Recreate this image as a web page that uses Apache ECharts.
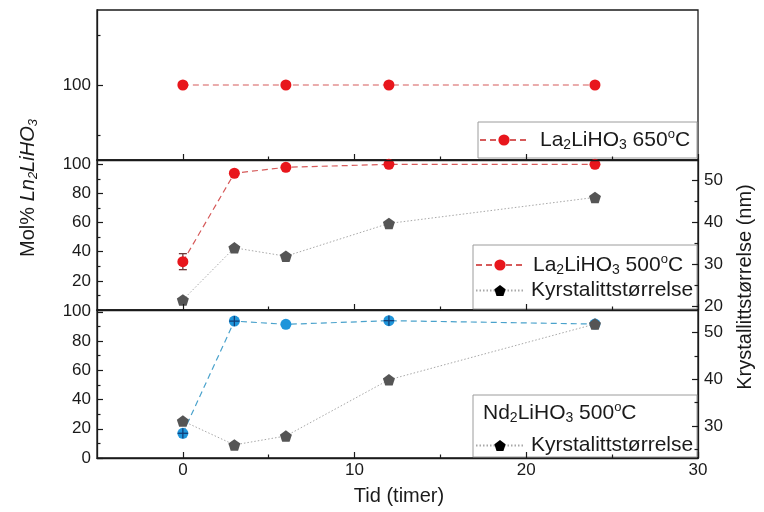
<!DOCTYPE html>
<html><head><meta charset="utf-8">
<script src="https://cdn.jsdelivr.net/npm/echarts@6/dist/echarts.min.js"></script>
<style>html,body{margin:0;padding:0;background:#fff}#c{width:764px;height:512px}</style>
</head><body><div id="c"></div>
<script>
// ---- data ----
const hoursTop = [0, 6, 12, 24];
const hours = [0, 3, 6, 12, 24];
const la650 = [100, 100, 100, 100];
const la500 = [33.2, 93.9, 98, 100, 100];
const la500Err = [5.5, 0, 0, 0, 0];
const crystLa = [21.6, 34, 32, 39.8, 46];
const nd500 = [16.9, 93.6, 91.4, 93.9, 91.6];
const nd500ErrY = [3.5, 3.5, 0, 3.5, 0];
const nd500ErrX = [0.3, 0.3, 0, 0.3, 0];
const crystNd = [31.1, 26, 27.9, 39.9, 51.8];
const xTicks = [0, 10, 20, 30];
const xMinor = [5, 15, 25];
const topTicks = [100];
const topMinor = [90, 110];
const molTicks = [0, 20, 40, 60, 80, 100];
const molLabelsMid = [20, 40, 60, 80, 100];
const molMinor = [10, 30, 50, 70, 90];
const nmTicksMid = [20, 30, 40, 50];
const nmTicksBot = [30, 40, 50];
const nmMinor = [25, 35, 45];

const FONT = '"Liberation Sans", Arial, sans-serif';
const INK = '#1a1a1a';

function pairs(xs, ys) { return xs.map((x, i) => [x, ys[i]]); }

function xAxes(g, showLabel) {
  return [
    { gridIndex: g, type: 'value', position: 'bottom', min: -5, max: 30, z: 6,
      axisLine: { show: true, onZero: false, lineStyle: { color: INK, width: 1.3 } },
      axisTick: { show: true, inside: true, length: 6, customValues: xTicks, lineStyle: { color: INK, width: 1.2 } },
      axisLabel: { show: showLabel, customValues: xTicks, color: INK, fontSize: 17, fontFamily: FONT, margin: 4 },
      splitLine: { show: false } },
    { gridIndex: g, type: 'value', position: 'bottom', min: -5, max: 30, z: 6,
      axisLine: { show: false, onZero: false },
      axisTick: { show: true, inside: true, length: 3.5, customValues: xMinor, lineStyle: { color: INK, width: 1.2 } },
      axisLabel: { show: false }, splitLine: { show: false } }
  ];
}
function yAxes(g, pos, min, max, ticks, labels, minor) {
  return [
    { gridIndex: g, type: 'value', position: pos, min: min, max: max, z: 6,
      axisLine: { show: true, onZero: false, lineStyle: { color: INK, width: 1.3 } },
      axisTick: { show: true, inside: true, length: 6, customValues: ticks, lineStyle: { color: INK, width: 1.2 } },
      axisLabel: { show: true, customValues: labels, color: INK, fontSize: 17, fontFamily: FONT, margin: 6 },
      splitLine: { show: false } },
    { gridIndex: g, type: 'value', position: pos, min: min, max: max, z: 6,
      axisLine: { show: false, onZero: false },
      axisTick: { show: true, inside: true, length: 3.5, customValues: minor, lineStyle: { color: INK, width: 1.2 } },
      axisLabel: { show: false }, splitLine: { show: false } }
  ];
}

const rich = {
  n: { fontSize: 21, lineHeight: 24, fontFamily: FONT, color: INK },
  np: { fontSize: 21, lineHeight: 24, fontFamily: FONT, color: INK, padding: [0, 0, 0, 7] },
  nq: { fontSize: 21, lineHeight: 24, fontFamily: FONT, color: INK, padding: [0, 0, 0, 4] },
  nr: { fontSize: 21, lineHeight: 24, fontFamily: FONT, color: INK, padding: [0, 0, 0, 2] },
  sb: { fontSize: 14, lineHeight: 8, verticalAlign: 'bottom', fontFamily: FONT, color: INK },
  sp: { fontSize: 13, lineHeight: 13, verticalAlign: 'top', fontFamily: FONT, color: INK }
};
const legendNames = {
  La650: '{np|La}{sb|2}{n|LiHO}{sb|3}{n| 650}{sp|o}{n|C}',
  La500: '{nq|La}{sb|2}{n|LiHO}{sb|3}{n| 500}{sp|o}{n|C}',
  Kyrs: '{nr|Kyrstalittstørrelse}'
};
function legendFmt(name) { return legendNames[name]; }

const pentagon = 'path://M0,-1 L0.951,-0.309 L0.588,0.809 L-0.588,0.809 L-0.951,-0.309 Z';
const RED = '#e8161c', BLUE = '#1f95da', GRAY = '#555555';

function errRender(caps, color) {
  return function (params, api) {
    const x = api.value(0), y = api.value(1), ex = api.value(2), ey = api.value(3);
    const kids = [];
    const st = { stroke: color, lineWidth: 1.3, fill: null };
    if (ey > 0) {
      const t = api.coord([x, y + ey]), b = api.coord([x, y - ey]);
      kids.push({ type: 'line', shape: { x1: t[0], y1: t[1], x2: b[0], y2: b[1] }, style: st });
      if (caps) {
        kids.push({ type: 'line', shape: { x1: t[0] - 4, y1: t[1], x2: t[0] + 4, y2: t[1] }, style: st });
        kids.push({ type: 'line', shape: { x1: b[0] - 4, y1: b[1], x2: b[0] + 4, y2: b[1] }, style: st });
      }
    }
    if (ex > 0) {
      const l = api.coord([x - ex, y]), r = api.coord([x + ex, y]);
      kids.push({ type: 'line', shape: { x1: l[0], y1: l[1], x2: r[0], y2: r[1] }, style: st });
    }
    return { type: 'group', children: kids };
  };
}

const opt = {
  animation: false,
  backgroundColor: '#fff',
  grid: [
    { left: 97, top: 10, width: 601, height: 150, show: true, borderColor: INK, borderWidth: 1.3, backgroundColor: 'transparent' },
    { left: 97, top: 160, width: 601, height: 150, show: true, borderColor: INK, borderWidth: 1.3, backgroundColor: 'transparent' },
    { left: 97, top: 310, width: 601, height: 148, show: true, borderColor: INK, borderWidth: 1.3, backgroundColor: 'transparent' }
  ],
  xAxis: [].concat(xAxes(0, false), xAxes(1, false), xAxes(2, true)),
  yAxis: [].concat(
    yAxes(0, 'left', 85, 115, topTicks, topTicks, topMinor),
    yAxes(1, 'left', 0, 103, molTicks, molLabelsMid, molMinor),
    yAxes(1, 'right', 19.2, 54.9, nmTicksMid, nmTicksMid, nmMinor),
    yAxes(2, 'left', 0, 101.2, molTicks, molTicks, molMinor),
    yAxes(2, 'right', 23.2, 54.8, nmTicksBot, nmTicksBot, nmMinor)
  ),
  legend: [
    { data: ['La650'], left: 479, top: 128, itemWidth: 48, itemHeight: 14, padding: 0, selectedMode: false,
      formatter: legendFmt, textStyle: { rich: rich, fontSize: 21, fontFamily: FONT, color: INK }, z: 8 },
    { data: ['La500', { name: 'Kyrs', itemStyle: { color: '#000' } }], orient: 'vertical', left: 475, top: 253,
      itemGap: 3, itemWidth: 48, itemHeight: 14, padding: 0, selectedMode: false,
      formatter: legendFmt, textStyle: { rich: rich, fontSize: 21, fontFamily: FONT, color: INK }, z: 8 },
    { data: [{ name: 'Kyrs', itemStyle: { color: '#000' } }], left: 475, top: 435, itemWidth: 48, itemHeight: 14,
      padding: 0, selectedMode: false,
      formatter: legendFmt, textStyle: { rich: rich, fontSize: 21, fontFamily: FONT, color: INK }, z: 8 }
  ],
  graphic: [
    { type: 'rect', z: 4, shape: { x: 478, y: 122, width: 219, height: 36 }, style: { fill: '#fff', stroke: '#9c9c9c', lineWidth: 1 } },
    { type: 'rect', z: 4, shape: { x: 473, y: 245, width: 224, height: 64 }, style: { fill: '#fff', stroke: '#9c9c9c', lineWidth: 1 } },
    { type: 'rect', z: 4, shape: { x: 473, y: 395, width: 224, height: 62 }, style: { fill: '#fff', stroke: '#9c9c9c', lineWidth: 1 } },
    { type: 'text', z: 8, x: 483, y: 413, style: {
        text: '{n|Nd}{sb|2}{n|LiHO}{sb|3}{n| 500}{sp|o}{n|C}', fill: INK, align: 'left', verticalAlign: 'middle',
        rich: {
          n: { fontSize: 21, lineHeight: 24, fontFamily: FONT, fill: INK },
          sb: { fontSize: 14, lineHeight: 8, verticalAlign: 'bottom', fontFamily: FONT, fill: INK },
          sp: { fontSize: 13, lineHeight: 13, verticalAlign: 'top', fontFamily: FONT, fill: INK }
        } } },
    { type: 'text', z: 8, x: 28, y: 188, rotation: Math.PI / 2, style: {
        text: '{n|Mol% }{i|Ln}{si|2}{i|LiHO}{si|3}', fill: INK, align: 'center', verticalAlign: 'middle',
        rich: {
          n: { fontSize: 20, lineHeight: 24, fontFamily: FONT, fill: INK },
          i: { fontSize: 20, lineHeight: 24, fontFamily: FONT, fontStyle: 'italic', fill: INK },
          si: { fontSize: 13, lineHeight: 8, verticalAlign: 'bottom', fontFamily: FONT, fontStyle: 'italic', fill: INK }
        } } },
    { type: 'text', z: 8, x: 745, y: 287, rotation: Math.PI / 2, style: {
        text: 'Krystallittstørrelse (nm)', fill: INK, align: 'center', verticalAlign: 'middle',
        fontSize: 20, fontFamily: FONT } },
    { type: 'text', z: 8, x: 399, y: 496, style: {
        text: 'Tid (timer)', fill: INK, align: 'center', verticalAlign: 'middle',
        fontSize: 20, fontFamily: FONT } }
  ],
  series: [
    { name: 'La650', type: 'line', xAxisIndex: 0, yAxisIndex: 0, data: pairs(hoursTop, la650),
      symbol: 'circle', symbolSize: 11, itemStyle: { color: RED },
      lineStyle: { color: '#d65a5a', width: 1.2, type: [6, 4] } },
    { name: 'La500err', type: 'custom', xAxisIndex: 2, yAxisIndex: 2, z: 1,
      data: hours.map((h, i) => [h, la500[i], 0, la500Err[i]]), renderItem: errRender(true, '#6e3a3a') },
    { name: 'La500', type: 'line', xAxisIndex: 2, yAxisIndex: 2, data: pairs(hours, la500),
      symbol: 'circle', symbolSize: 11, itemStyle: { color: RED },
      lineStyle: { color: '#d65a5a', width: 1.2, type: [6, 4] } },
    { name: 'Kyrs', type: 'line', xAxisIndex: 2, yAxisIndex: 4, data: pairs(hours, crystLa),
      symbol: pentagon, symbolSize: [12, 11.5], itemStyle: { color: GRAY },
      lineStyle: { color: '#a8a8a8', width: 1, type: [1.5, 2] } },
    { name: 'Nd500', type: 'line', xAxisIndex: 4, yAxisIndex: 6, data: pairs(hours, nd500),
      symbol: 'circle', symbolSize: 11, itemStyle: { color: BLUE },
      lineStyle: { color: '#4aa2cc', width: 1.2, type: [6, 4] } },
    { name: 'Nd500err', type: 'custom', xAxisIndex: 4, yAxisIndex: 6, z: 5,
      data: hours.map((h, i) => [h, nd500[i], nd500ErrX[i], nd500ErrY[i]]), renderItem: errRender(false, '#123f78') },
    { name: 'Kyrs', type: 'line', xAxisIndex: 4, yAxisIndex: 8, z: 5, data: pairs(hours, crystNd),
      symbol: pentagon, symbolSize: [12, 11.5], itemStyle: { color: GRAY },
      lineStyle: { color: '#a8a8a8', width: 1, type: [1.5, 2] } }
  ]
};
const chart = echarts.init(document.getElementById('c'), null, { renderer: 'canvas' });
chart.setOption(opt);
</script></body></html>
